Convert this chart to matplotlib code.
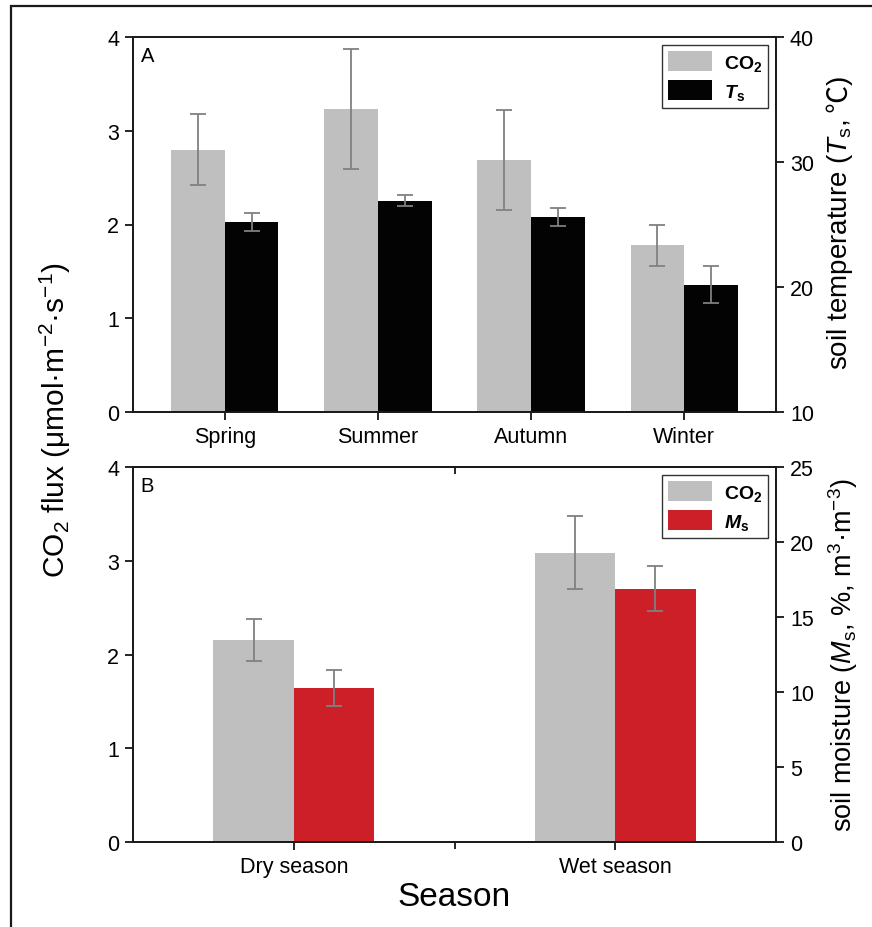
"""Seasonal CO2 flux vs soil temperature and soil moisture"""

import numpy as np
import matplotlib
matplotlib.use('Agg')
import matplotlib.pyplot as plt
from matplotlib.patches import Rectangle

plt.rcParams['font.family'] = ['Liberation Sans', 'DejaVu Sans']
plt.rcParams['mathtext.fontset'] = 'custom'
plt.rcParams['mathtext.rm'] = 'Liberation Sans'
plt.rcParams['mathtext.it'] = 'Liberation Sans:italic'
plt.rcParams['mathtext.bf'] = 'Liberation Sans:bold'
plt.rcParams['mathtext.bfit'] = 'Liberation Sans:bold:italic'

# panel A: four seasons
seasons = ['Spring', 'Summer', 'Autumn', 'Winter']
co2_season = [2.80, 3.23, 2.69, 1.78]
co2_season_err = [0.38, 0.64, 0.53, 0.22]
ts_season = [25.2, 26.9, 25.6, 20.2]
ts_season_err = [0.7, 0.45, 0.7, 1.5]

# panel B: dry / wet season
periods = ['Dry season', 'Wet season']
co2_period = [2.155, 3.085]
co2_period_err = [0.22, 0.39]
ms_period = [10.3, 16.9]
ms_period_err = [1.2, 1.5]

GREY = '#bfbfbf'
BLACK = '#030303'
RED = '#cc1f27'
ERR = '#808080'
TICK_FS = 15.5

fig = plt.figure(figsize=(8.72, 9.28), dpi=100)

# figure frame
fig.patches.append(Rectangle((11 / 872, -0.1), 1.2, 0.1 + 1 - 7 / 928, transform=fig.transFigure,
                             fill=False, edgecolor='#1a1a1a', lw=1.6))

ekw = dict(ecolor=ERR, elinewidth=1.3, capsize=6, capthick=1.3)


def style_axes(ax, ax2):
    for a in (ax, ax2):
        for sp in a.spines.values():
            sp.set_linewidth(1.3)
            sp.set_color('#1a1a1a')
    ax.tick_params(axis='both', direction='out', length=6, width=1.2, labelsize=TICK_FS, pad=4)
    ax2.tick_params(axis='y', direction='out', length=6, width=1.2, labelsize=TICK_FS, pad=4)


def add_legend(ax, handles, labels):
    leg = ax.legend(handles, labels, loc='upper right', bbox_to_anchor=(0.988, 0.978),
                    borderaxespad=0, fancybox=False, edgecolor='#333333', framealpha=1,
                    fontsize=14, handlelength=2.3, handleheight=1.2, handletextpad=0.6,
                    borderpad=0.3, labelspacing=0.4)
    leg.get_frame().set_linewidth(1.0)
    return leg


def stacked_label(pieces, xc, yc, fs):
    """rotated label built from pieces (text, family) stacked bottom to top"""
    texts = []
    for s, fam in pieces:
        texts.append(fig.text(0, 0, s, rotation=90, ha='center', va='bottom', fontsize=fs,
                              family=fam))
    fig.canvas.draw()
    r = fig.canvas.get_renderer()
    hs = [t.get_window_extent(r).height for t in texts]
    W, H = fig.bbox.width, fig.bbox.height
    y = yc - sum(hs) / 2
    for t, h in zip(texts, hs):
        t.set_position((xc / W, y / H))
        y += h
    return texts


# ---- panel A
axA = fig.add_axes([133 / 872, 1 - 413 / 928, 643 / 872, 375 / 928])
axA2 = axA.twinx()
x = np.arange(1, len(seasons) + 1)
w = 0.35
b1 = axA.bar(x - w / 2, co2_season, w, color=GREY, yerr=co2_season_err, error_kw=ekw, zorder=2)
b2 = axA2.bar(x + w / 2, np.array(ts_season) - 10, w, bottom=10, color=BLACK,
              yerr=ts_season_err, error_kw=ekw, zorder=2)
axA.set_xlim(0.4, 4.6)
axA.set_ylim(0, 4)
axA.set_yticks([0, 1, 2, 3, 4])
axA2.set_ylim(10, 40)
axA2.set_yticks([10, 20, 30, 40])
axA.set_xticks(x)
axA.set_xticklabels(seasons)
style_axes(axA, axA2)
axA.text(0.012, 0.975, 'A', transform=axA.transAxes, ha='left', va='top', fontsize=14.5)
add_legend(axA2, [b1, b2], [r'$\mathbf{CO_2}$', r'$\mathbfit{T}_\mathbf{s}$'])

# ---- panel B
axB = fig.add_axes([133 / 872, 1 - 843 / 928, 643 / 872, 375 / 928])
axB2 = axB.twinx()
xb = np.arange(1, len(periods) + 1)
wb = 0.25
c1 = axB.bar(xb - wb / 2, co2_period, wb, color=GREY, yerr=co2_period_err, error_kw=ekw, zorder=2)
c2 = axB2.bar(xb + wb / 2, ms_period, wb, color=RED, yerr=ms_period_err, error_kw=ekw, zorder=2)
axB.set_xlim(0.5, 2.5)
axB.set_ylim(0, 4)
axB.set_yticks([0, 1, 2, 3, 4])
axB2.set_ylim(0, 25)
axB2.set_yticks([0, 5, 10, 15, 20, 25])
axB.set_xticks(xb)
axB.set_xticklabels(periods)
axB.set_xticks([1.5], minor=True)
style_axes(axB, axB2)
axB.tick_params(axis='x', which='minor', direction='out', length=5, width=1.2)
top = axB.secondary_xaxis('top')
top.set_xticks([1.5])
top.tick_params(direction='in', length=5, width=1.2, labeltop=False)
top.spines['top'].set_linewidth(1.3)
axB.text(0.012, 0.975, 'B', transform=axB.transAxes, ha='left', va='top', fontsize=14.5)
axB2.set_ylabel(r'soil moisture ($\mathit{M}_\mathrm{s}$, %, m$^3$·m$^{-3}$)', fontsize=19.5, labelpad=9)
axB.set_xlabel('Season', fontsize=24, labelpad=3)
add_legend(axB2, [c1, c2], [r'$\mathbf{CO_2}$', r'$\mathbfit{M}_\mathbf{s}$'])

fig.text(0.064, 1 - 420 / 928, r'CO$_2$ flux (μmol·m$^{-2}$·s$^{-1}$)', rotation=90, ha='center',
         va='center', fontsize=21.5)

# right label of panel A, the Celsius sign needs a CJK font
stacked_label([(r'soil temperature ($\mathit{T}_\mathrm{s}$,', 'Liberation Sans'),
               (' ℃', 'Noto Sans CJK SC'),
               (')', 'Liberation Sans')],
              840, 928 - 223, 20)

fig.savefig('out.png', dpi=100)
